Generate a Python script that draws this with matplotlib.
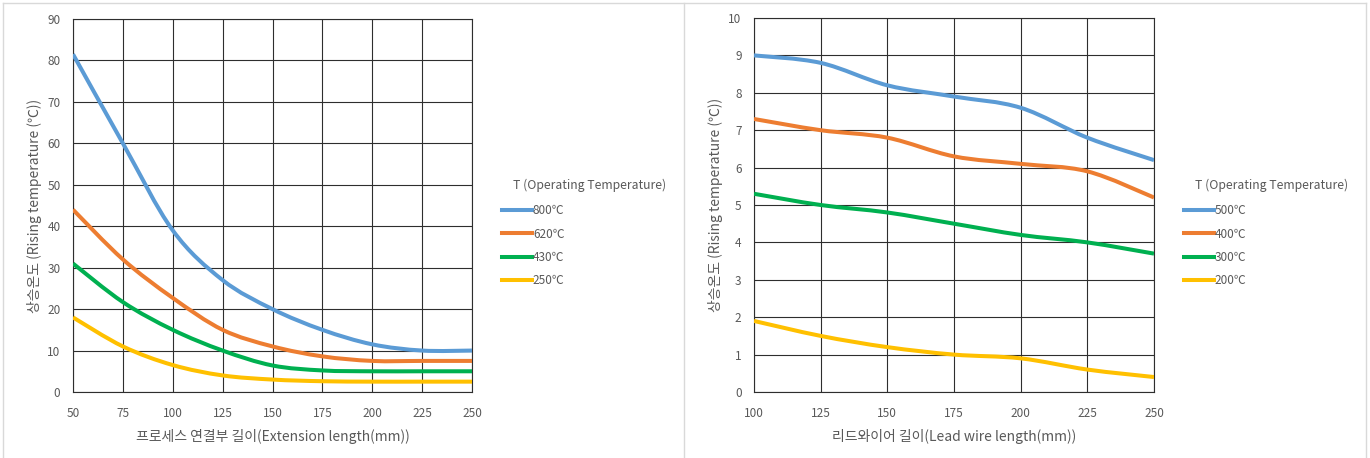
import numpy as np
import matplotlib
matplotlib.use('Agg')
import matplotlib.pyplot as plt
from matplotlib.path import Path
from matplotlib.patches import PathPatch
from matplotlib.lines import Line2D

plt.rcParams['font.family'] = ['Noto Sans CJK KR', 'DejaVu Sans']

# left chart: extension length
ext_len = [50, 75, 100, 125, 150, 175, 200, 225, 250]
ext_800 = [81.5, 60, 39, 27, 20, 15, 11.5, 10, 10]
ext_620 = [44, 32, 22.7, 15, 11, 8.6, 7.5, 7.5, 7.5]
ext_430 = [31, 21.7, 15, 10, 6.4, 5.2, 5, 5, 5]
ext_250 = [18, 11, 6.5, 4, 3, 2.6, 2.5, 2.5, 2.5]
ext_labels = ['800℃', '620℃', '430℃', '250℃']

# right chart: lead wire length
lead_len = [100, 125, 150, 175, 200, 225, 250]
lead_500 = [9.0, 8.8, 8.2, 7.9, 7.6, 6.8, 6.2]
lead_400 = [7.3, 7.0, 6.8, 6.3, 6.1, 5.9, 5.2]
lead_300 = [5.3, 5.0, 4.8, 4.5, 4.2, 4.0, 3.7]
lead_200 = [1.9, 1.5, 1.2, 1.0, 0.9, 0.6, 0.4]
lead_labels = ['500℃', '400℃', '300℃', '200℃']

colors = ['#5B9BD5', '#ED7D31', '#00B050', '#FFC000']
txt_col = '#595959'
W, H = 1370, 458


def smooth_path(x, y):
    # excel-like smoothed line: catmull-rom as cubic bezier
    p = np.column_stack([x, y]).astype(float)
    pts = [p[0]]
    codes = [Path.MOVETO]
    n = len(p)
    for i in range(n - 1):
        p0 = p[i - 1] if i > 0 else p[i]
        p3 = p[i + 2] if i + 2 < n else p[i + 1]
        c1 = p[i] + (p[i + 1] - p0) / 6
        c2 = p[i + 1] - (p3 - p[i]) / 6
        pts += [c1, c2, p[i + 1]]
        codes += [Path.CURVE4] * 3
    return Path(pts, codes)


def make_chart(rect, xs, series, labels, xlim, ylim, ystep, xlabel, ylabel, leg_x):
    ax = fig.add_axes([rect[0] / W, 1 - rect[3] / H, (rect[2] - rect[0]) / W,
                       (rect[3] - rect[1]) / H])
    for ys, c in zip(series, colors):
        ax.add_patch(PathPatch(smooth_path(xs, ys), facecolor='none', edgecolor=c,
                               lw=2.9, capstyle='butt', joinstyle='round', zorder=3))
    ax.set_xlim(*xlim)
    ax.set_ylim(*ylim)
    ax.set_xticks(np.arange(xlim[0], xlim[1] + 1, 25))
    ax.set_yticks(np.arange(ylim[0], ylim[1] + ystep / 2, ystep))
    ax.grid(True, color='#2e2e2e', lw=0.8)
    for s in ax.spines.values():
        s.set_color('#2e2e2e')
        s.set_linewidth(0.8)
    ax.tick_params(length=0, labelsize=8.5, labelcolor=txt_col)
    ax.tick_params(axis='x', pad=11)
    ax.tick_params(axis='y', pad=9)
    ax.set_xlabel(xlabel, fontsize=10, color=txt_col, labelpad=6)
    ax.set_ylabel(ylabel, fontsize=10, color=txt_col, labelpad=3.5)

    handles = [Line2D([], [], color=c, lw=2.9) for c in colors]
    fig.text(leg_x + 11 / W, 1 - 185 / H, 'T (Operating Temperature)', fontsize=8.8,
             color=txt_col, va='center', ha='left')
    fig.legend(handles, labels, loc='upper left', frameon=False,
               bbox_to_anchor=(leg_x - 8 / W, 1 - 196 / H), fontsize=8.5,
               handlelength=2.5, handletextpad=0.1, labelspacing=0.87,
               labelcolor=txt_col, borderpad=0.2)
    return ax


fig = plt.figure(figsize=(W / 100, H / 100), dpi=100)

make_chart((73, 19, 472, 392), ext_len, [ext_800, ext_620, ext_430, ext_250], ext_labels,
           (50, 250), (0, 90), 10, '프로세스 연결부 길이(Extension length(mm))',
           '상승온도 (Rising temperature (℃))', 502 / W)
make_chart((754, 18, 1154, 392), lead_len, [lead_500, lead_400, lead_300, lead_200],
           lead_labels, (100, 250), (0, 10), 1, '리드와이어 길이(Lead wire length(mm))',
           '상승온도 (Rising temperature (℃))', 1184 / W)

# panel borders
bc = '#d9d9d9'
fig.add_artist(Line2D([3 / W, 1366 / W], [1 - 3 / H, 1 - 3 / H], color=bc, lw=1))
for xp in (3, 684, 1366):
    fig.add_artist(Line2D([xp / W, xp / W], [0, 1 - 3 / H], color=bc, lw=1))

fig.savefig('out.png', dpi=100)
